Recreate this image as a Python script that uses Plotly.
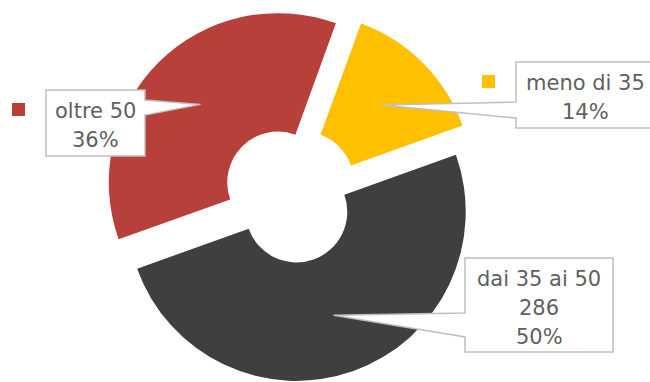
import math
import plotly.graph_objects as go

# ---- data -------------------------------------------------------------
labels = ["meno di 35", "dai 35 ai 50", "oltre 50"]
values = [80, 286, 206]
show_count = [False, True, False]
colors = ["#FFC000", "#403E3F", "#B7403A"]

# ---- layout constants --------------------------------------------------
W, H = 650, 382
M_T = 8
X_DOM = (0.0, 0.894)
HOLE = 0.30
PULL = 0.105
ROT = 20
TEXT_COLOR = "#5F5F5F"
BORDER = "#BFBFBF"
FONT = "DejaVu Sans"
FONT_SIZE = 21
FONT_WEIGHT = 400
LINE_STEP = 29

# callout boxes in pixels: left, top, right, bottom, side of the pointer, pointer base (y1, y2)
boxes = {
    "meno di 35": (516, 62, 662, 128, "left", (102, 118)),
    "dai 35 ai 50": (465, 258, 613, 352, "left", (313, 337)),
    "oltre 50": (46, 90, 145, 156, "right", (100, 115)),
}

plot_w = W
plot_h = H - M_T


def px_to_paper(x, y):
    return x / plot_w, (H - y) / plot_h


# pie geometry, same rules plotly uses for a pulled pie
box_w = plot_w * (X_DOM[1] - X_DOM[0])
box_h = plot_h
r = min(box_w, box_h) / 2 / (1 + PULL)
cx = plot_w * (X_DOM[0] + X_DOM[1]) / 2
cy = M_T + box_h / 2

total = sum(values)

fig = go.Figure(
    go.Pie(
        labels=labels,
        values=values,
        hole=HOLE,
        pull=[PULL] * len(values),
        rotation=ROT,
        sort=False,
        direction="clockwise",
        marker=dict(colors=colors, line=dict(width=0)),
        textinfo="none",
        hoverinfo="label+value+percent",
        domain=dict(x=list(X_DOM), y=[0, 1]),
        showlegend=False,
    )
)

shapes = []
annotations = []
angle = math.radians(ROT)
for lab, val, col, cnt in zip(labels, values, colors, show_count):
    span = 2 * math.pi * val / total
    mid = angle + span / 2
    angle += span
    # anchor point of the leader: middle of the ring, at mid angle of the pulled slice
    pcx = cx + PULL * r * math.sin(mid)
    pcy = cy - PULL * r * math.cos(mid)
    rr = r * (1 + HOLE) / 2
    tx = pcx + rr * math.sin(mid)
    ty = pcy - rr * math.cos(mid)

    left, top, right, bottom, side, (j1, j2) = boxes[lab]
    if side == "left":
        pts = [(left, top), (right, top), (right, bottom), (left, bottom),
               (left, j2), (tx, ty), (left, j1)]
    else:
        pts = [(left, top), (right, top), (right, j1), (tx, ty),
               (right, j2), (right, bottom), (left, bottom)]
    path = ""
    for k, (x, y) in enumerate(pts):
        xp, yp = px_to_paper(x, y)
        path += ("M" if k == 0 else "L") + f"{xp:.5f},{yp:.5f} "
    path += "Z"
    shapes.append(dict(type="path", xref="paper", yref="paper", path=path,
                       fillcolor="white", line=dict(color=BORDER, width=1.5),
                       layer="above"))

    pct = round(val / total * 100)
    lines = [lab] + ([str(val)] if cnt else []) + [f"{pct}%"]
    first_y = top + 21
    text_cx = (left + right) / 2 if right <= W else left + 69
    for k, txt in enumerate(lines):
        xp, yp = px_to_paper(text_cx, first_y + k * LINE_STEP)
        annotations.append(dict(text=txt, x=xp, y=yp, xref="paper", yref="paper",
                                xanchor="center", yanchor="middle", showarrow=False,
                                font=dict(family=FONT, size=FONT_SIZE, color=TEXT_COLOR,
                                          weight=FONT_WEIGHT)))

    # legend key square beside the callout
    kx1 = left - 21
    kx0 = kx1 - 13
    ky0 = first_y - 8
    ky1 = ky0 + 13
    x0p, y0p = px_to_paper(kx0, ky1)
    x1p, y1p = px_to_paper(kx1, ky0)
    shapes.append(dict(type="rect", xref="paper", yref="paper",
                       x0=x0p, y0=y0p, x1=x1p, y1=y1p,
                       fillcolor=col, line=dict(width=0), layer="above"))

fig.update_layout(
    width=W,
    height=H,
    margin=dict(l=0, r=0, t=M_T, b=0),
    paper_bgcolor="white",
    plot_bgcolor="white",
    shapes=shapes,
    annotations=annotations,
)

fig.write_html("out.html")
